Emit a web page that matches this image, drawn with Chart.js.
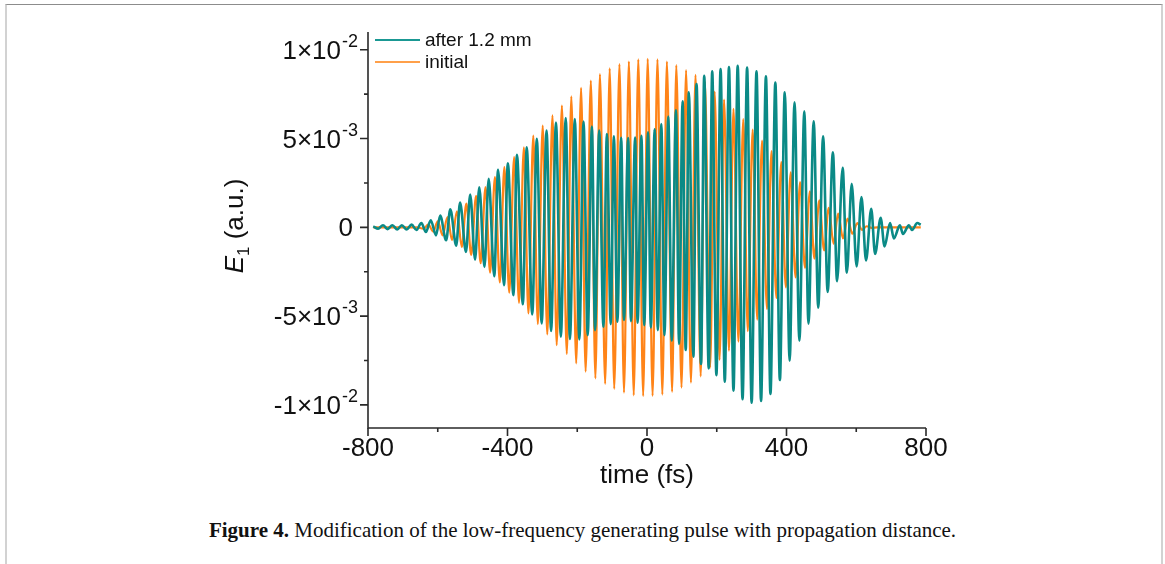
<!DOCTYPE html>
<html>
<head>
<meta charset="utf-8">
<script src="https://cdn.jsdelivr.net/npm/chart.js@4/dist/chart.umd.min.js"></script>
<style>
    body { margin: 0; background: #fff; width: 1165px; height: 564px; overflow: hidden; position: relative; }
    #frame { position: absolute; left: 5px; top: 4px; width: 1154px; height: 600px;
             border-top: 1px solid #8c8c8c; border-left: 2px solid #d2d2d2; border-right: 2px solid #d2d2d2; }
    #chart { position: absolute; left: 0; top: 0; }
    #caption { position: absolute; left: 0; top: 518px; width: 1165px; text-align: center;
               font-family: "Liberation Serif", "DejaVu Serif", serif; font-size: 21px; color: #111; }
</style>
</head>
<body>
<div id="frame"></div>
<canvas id="chart" width="1165" height="500"></canvas>
<div id="caption"><b>Figure 4.</b> Modification of the low-frequency generating pulse with propagation distance.</div>
<script>
// field values in units of 1e-3 (a.u.), times in fs
const FIELD_UNIT = 1e-3;

// "initial" pulse: extrema
const initialTime = [-785, -660, -641, -627, -613, -600, -586, -572, -559, -545, -531, -518, -504, -490, -477, -463,
    -450, -436, -422, -409, -395, -381, -367, -353, -340, -326, -313, -299, -286, -271, -259, -244, -230, -217,
    -203, -189, -176, -161, -148, -135, -120, -107, -94, -79, -66, -52, -38, -25, -11, 2, 16, 30, 44, 57, 72,
    84, 99, 112, 126, 139, 154, 166, 181, 194, 208, 221, 235, 248, 262, 276, 289, 303, 316, 330, 344, 357,
    371, 385, 398, 412, 426, 439, 453, 467, 480, 494, 508, 521, 535, 548, 562, 575, 589, 603, 617, 630, 644,
    660, 785];
const initialField = [0, 0, -0.08, 0.15, -0.24, 0.34, -0.45, 0.58, -0.72, 0.90, -1.10, 1.33, -1.55, 1.78, -2.02, 2.26,
    -2.55, 2.83, -3.10, 3.39, -3.68, 3.95, -4.25, 4.51, -4.85, 5.17, -5.45, 5.73, -6.03, 6.30, -6.63, 6.85, -7.13, 7.38,
    -7.66, 7.85, -8.13, 8.26, -8.50, 8.63, -8.82, 8.95, -9.10, 9.19, -9.31, 9.34, -9.46, 9.46, -9.51, 9.49, -9.49, 9.46, -9.42, 9.34, -9.27,
    9.14, -9.03, 8.86, -8.75, 8.58, -8.39, 8.20, -7.90, 7.64, -7.47, 7.19, -6.95, 6.67, -6.44, 6.10, -5.85, 5.50, -5.20, 4.89, -4.60, 4.29,
    -3.98, 3.67, -3.38, 3.10, -2.82, 2.55, -2.28, 2.02, -1.76, 1.52, -1.30, 1.10, -0.92, 0.77, -0.62, 0.49, -0.36, 0.24, -0.14, 0.06, -0.03,
    0, 0];

// "after 1.2 mm": extrema
const afterTime = [-785, -771, -757, -744, -730, -716, -703, -689, -675, -661, -647, -634, -620, -605, -593, -576,
    -564, -547, -536, -519, -507, -493, -481, -466, -454, -438, -427, -410, -399, -383, -373, -356, -345, -329,
    -316, -302, -288, -275, -261, -247, -233, -221, -207, -194, -182, -170, -158, -149, -137, -125, -115, -104,
    -95, -85, -74, -66, -54, -46, -34, -27, -16, -8, 3, 11, 22, 31, 41, 50, 61, 71, 83, 92, 102, 111, 120, 133,
    142, 155, 164, 177, 187, 199, 211, 223, 235, 248, 260, 274, 287, 300, 314, 327, 341, 354, 368, 381, 395,
    409, 423, 437, 451, 463, 478, 491, 505, 518, 533, 545, 561, 573, 587, 601, 615, 628, 643, 654, 670, 681,
    697, 708, 725, 734, 751, 760, 775, 785];
const afterField = [0.05, -0.08, 0.12, -0.10, 0.12, -0.12, 0.12, -0.12, 0.15, -0.15, 0.24, -0.26, 0.40, -0.45, 0.67, -0.73,
    1.01, -1.03, 1.39, -1.39, 1.85, -1.82, 2.26, -2.23, 2.74, -2.75, 3.24, -3.26, 3.61, -3.82, 4.08, -4.33, 4.51, -4.90,
    4.98, -5.41, 5.45, -5.84, 5.90, -6.16, 6.16, -6.29, 6.10, -6.31, 5.96, -6.07, 5.67, -5.79, 5.45, -5.60, 5.26, -5.45,
    5.13, -5.32, 5.04, -5.22, 5.03, -5.28, 5.06, -5.37, 5.15, -5.51, 5.35, -5.64, 5.52, -5.79, 5.82, -6.07, 6.24, -6.39, 6.61, -6.57, 7.10, -6.91, 7.60, -7.29,
    8.07, -7.70, 8.54, -7.94, 8.78, -8.32, 8.92, -8.69, 9.03, -9.20, 9.10, -9.68, 9.00, -9.87, 8.78, -9.78, 8.50, -9.38, 8.16, -8.60, 7.60,
    -7.51, 7.04, -6.39, 6.53, -5.42, 5.97, -4.52, 5.13, -3.64, 4.23, -3.03, 3.35, -2.56, 2.45, -2.20, 1.70, -1.87, 1.05, -1.50, 0.54, -1.07,
    0.24, -0.62, 0.11, -0.37, 0.11, -0.15, 0.24, 0.15];

const seriesLabels = ['after 1.2 mm', 'initial'];
const seriesColors = ['#0b8a86', '#ff8418'];
const legendColors = ['#1a9893', '#ffa04a'];

const xTickValues = [-800, -600, -400, -200, 0, 200, 400, 600, 800];
const xTickLabels = ['-800', '', '-400', '', '0', '', '400', '', '800'];
const yTickValues = [-0.01, -0.0075, -0.005, -0.0025, 0, 0.0025, 0.005, 0.0075, 0.01];
const yTickLabels = ['-1×10', '', '-5×10', '', '0', '', '5×10', '', '1×10'];
const yTickExps = ['-2', '', '-3', '', '', '', '-3', '', '-2'];

const FONT = '"Liberation Sans", Arial, sans-serif';

function toPoints(times, values) {
    return times.map((t, i) => ({ x: t, y: values[i] * FIELD_UNIT }));
}

// axes, ticks, tick labels, titles and legend
const decorPlugin = {
    id: 'decor',
    afterDraw(chart) {
        const { ctx, chartArea: a, scales: { x, y } } = chart;
        ctx.save();
        ctx.strokeStyle = '#2a2a2a';
        ctx.fillStyle = '#111';
        ctx.lineWidth = 1.6;

        ctx.beginPath();
        ctx.moveTo(a.left, a.top);
        ctx.lineTo(a.left, a.bottom);
        ctx.lineTo(a.right, a.bottom);
        ctx.stroke();

        // x ticks (outward)
        ctx.beginPath();
        xTickValues.forEach((v, i) => {
            const px = x.getPixelForValue(v);
            const len = xTickLabels[i] ? 8 : 4;
            ctx.moveTo(px, a.bottom);
            ctx.lineTo(px, a.bottom + len);
        });
        // y ticks (outward)
        yTickValues.forEach((v, i) => {
            const py = y.getPixelForValue(v);
            const len = (yTickLabels[i] || yTickValues[i] === 0) ? 8 : 4;
            ctx.moveTo(a.left, py);
            ctx.lineTo(a.left - len, py);
        });
        ctx.stroke();

        // x tick labels
        ctx.font = '26px ' + FONT;
        ctx.textAlign = 'center';
        ctx.textBaseline = 'middle';
        xTickValues.forEach((v, i) => {
            if (!xTickLabels[i]) return;
            ctx.fillText(xTickLabels[i], x.getPixelForValue(v), a.bottom + 21);
        });

        // y tick labels with superscript exponent
        yTickValues.forEach((v, i) => {
            if (!yTickLabels[i]) return;
            const py = y.getPixelForValue(v);
            ctx.textAlign = 'right';
            if (yTickExps[i]) {
                const right = a.left - 10;
                ctx.font = '18px ' + FONT;
                const ew = ctx.measureText(yTickExps[i]).width;
                ctx.fillText(yTickExps[i], right, py - 8);
                ctx.font = '26px ' + FONT;
                ctx.fillText(yTickLabels[i], right - ew - 1, py + 2);
            } else {
                ctx.font = '26px ' + FONT;
                ctx.fillText(yTickLabels[i], a.left - 15, py + 1);
            }
        });

        // x title
        ctx.font = '26px ' + FONT;
        ctx.textAlign = 'center';
        ctx.fillText('time (fs)', (a.left + a.right) / 2, 476);

        // y title: E_1 (a.u.)
        ctx.save();
        ctx.translate(236, (a.top + a.bottom) / 2 - 4);
        ctx.rotate(-Math.PI / 2);
        ctx.textAlign = 'left';
        ctx.font = 'italic 26px ' + FONT;
        const wE = ctx.measureText('E').width;
        ctx.font = '17px ' + FONT;
        const w1 = ctx.measureText('1').width;
        ctx.font = '26px ' + FONT;
        const wRest = ctx.measureText(' (a.u.)').width;
        let sx = -(wE + w1 + wRest) / 2;
        ctx.font = 'italic 26px ' + FONT;
        ctx.fillText('E', sx, 0);
        sx += wE;
        ctx.font = '17px ' + FONT;
        ctx.fillText('1', sx, 8);
        sx += w1;
        ctx.font = '26px ' + FONT;
        ctx.fillText(' (a.u.)', sx, 0);
        ctx.restore();

        // legend
        ctx.font = '19px ' + FONT;
        ctx.textAlign = 'left';
        ctx.lineWidth = 2.2;
        ctx.fillStyle = '#111';
        seriesLabels.forEach((lab, i) => {
            const ly = 40 + i * 22;
            ctx.strokeStyle = legendColors[i];
            ctx.beginPath();
            ctx.moveTo(375, ly);
            ctx.lineTo(420, ly);
            ctx.stroke();
            ctx.fillText(lab, 425, ly + 1);
        });
        ctx.restore();
    }
};

new Chart(document.getElementById('chart'), {
    type: 'line',
    data: {
        datasets: [
            {
                label: seriesLabels[0],
                data: toPoints(afterTime, afterField),
                borderColor: seriesColors[0],
                borderWidth: 2.6,
                pointRadius: 0,
                cubicInterpolationMode: 'monotone',
                fill: false
            },
            {
                label: seriesLabels[1],
                data: toPoints(initialTime, initialField),
                borderColor: seriesColors[1],
                borderWidth: 2.2,
                pointRadius: 0,
                cubicInterpolationMode: 'monotone',
                fill: false
            }
        ]
    },
    options: {
        responsive: false,
        animation: false,
        events: [],
        layout: { padding: { top: 32, right: 239, left: 0, bottom: 0 } },
        plugins: { legend: { display: false }, tooltip: { enabled: false } },
        scales: {
            x: {
                type: 'linear',
                min: -800,
                max: 800,
                grid: { display: false },
                border: { display: false },
                ticks: { display: false },
                afterFit: (s) => { s.height = 72; }
            },
            y: {
                type: 'linear',
                min: -0.0113,
                max: 0.011,
                grid: { display: false },
                border: { display: false },
                ticks: { display: false },
                afterFit: (s) => { s.width = 368; }
            }
        }
    },
    plugins: [decorPlugin]
});
</script>
</body>
</html>
